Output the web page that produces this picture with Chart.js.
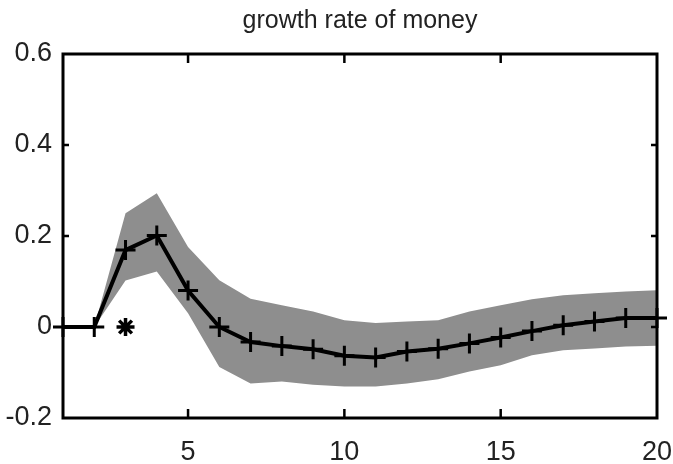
<!DOCTYPE html>
<html>
<head>
<meta charset="utf-8">
<script src="https://cdn.jsdelivr.net/npm/chart.js@4.4.1/dist/chart.umd.min.js"></script>
<style>
  html, body { margin: 0; padding: 0; background: #fff; }
  #wrap { width: 673px; height: 464px; }
</style>
</head>
<body>
<div id="wrap"><canvas id="c" width="673" height="464"></canvas></div>
<script>
const chartTitle = "growth rate of money";
const periods = [1, 2, 3, 4, 5, 6, 7, 8, 9, 10, 11, 12, 13, 14, 15, 16, 17, 18, 19, 20];
const response = [0, 0, 0.169, 0.201, 0.08, 0.0, -0.033, -0.042, -0.049, -0.063, -0.067, -0.054, -0.048, -0.036, -0.023, -0.009, 0.004, 0.012, 0.02, 0.02];
const bandUpper = [null, 0, 0.25, 0.294, 0.176, 0.103, 0.062, 0.048, 0.034, 0.015, 0.009, 0.012, 0.015, 0.034, 0.048, 0.061, 0.07, 0.074, 0.078, 0.081];
const bandLower = [null, 0, 0.102, 0.122, 0.03, -0.088, -0.124, -0.12, -0.127, -0.131, -0.131, -0.124, -0.115, -0.098, -0.084, -0.062, -0.051, -0.047, -0.043, -0.041];
const starX = [3];
const starY = [0];
const xTicks = [5, 10, 15, 20];
const xTickLabels = ["5", "10", "15", "20"];
const yTicks = [-0.2, 0, 0.2, 0.4, 0.6];
const yTickLabels = ["-0.2", "0", "0.2", "0.4", "0.6"];

const FONT = "'Liberation Sans', Arial, sans-serif";
const toPts = (xs, ys) => xs.map((x, i) => ({ x: x, y: ys[i] })).filter(p => p.y !== null);

const boxPlugin = {
  id: 'box',
  afterDatasetsDraw(chart) {
    const { ctx, chartArea: a, scales } = chart;
    const xs = scales.x, ys = scales.y;
    ctx.save();
    ctx.strokeStyle = '#000';
    ctx.lineWidth = 3;
    ctx.strokeRect(a.left, a.top, a.right - a.left, a.bottom - a.top);
    ctx.lineWidth = 2.5;
    const len = 9;
    ctx.beginPath();
    xTicks.forEach(v => {
      const px = xs.getPixelForValue(v);
      if (px >= a.right - 1) return;
      ctx.moveTo(px, a.bottom); ctx.lineTo(px, a.bottom - len);
      ctx.moveTo(px, a.top); ctx.lineTo(px, a.top + len);
    });
    yTicks.forEach(v => {
      const py = ys.getPixelForValue(v);
      if (py <= a.top + 1 || py >= a.bottom - 1) return;
      ctx.moveTo(a.left, py); ctx.lineTo(a.left + len - 3, py);
      ctx.moveTo(a.right, py); ctx.lineTo(a.right - len + 3, py);
    });
    ctx.stroke();
    ctx.restore();
  }
};

new Chart(document.getElementById('c'), {
  type: 'scatter',
  data: {
    datasets: [
      {
        data: toPts(periods, bandUpper),
        order: 3,
        showLine: true,
        borderWidth: 0,
        borderColor: 'rgba(0,0,0,0)',
        pointRadius: 0,
        backgroundColor: '#8e8e8e',
        fill: '+1',
        tension: 0
      },
      {
        data: toPts(periods, bandLower),
        order: 2,
        showLine: true,
        borderWidth: 0,
        borderColor: 'rgba(0,0,0,0)',
        pointRadius: 0,
        fill: false,
        tension: 0
      },
      {
        data: toPts(periods, response),
        order: 1,
        showLine: true,
        borderColor: '#000',
        borderWidth: 4,
        pointStyle: 'cross',
        pointRadius: 10,
        pointBorderWidth: 3,
        pointBorderColor: '#000',
        pointBackgroundColor: '#000',
        fill: false,
        tension: 0,
        clip: false
      },
      {
        data: toPts(starX, starY),
        order: 0,
        showLine: false,
        pointStyle: 'star',
        pointRadius: 9,
        pointBorderWidth: 3.5,
        pointBorderColor: '#000',
        clip: false
      }
    ]
  },
  options: {
    responsive: false,
    animation: false,
    events: [],
    layout: { padding: { left: 0, right: 0, top: 0, bottom: 0 } },
    plugins: {
      legend: { display: false },
      tooltip: { enabled: false },
      title: {
        display: true,
        fullSize: false,
        text: chartTitle,
        color: '#222',
        font: { family: FONT, size: 25, weight: 'normal', lineHeight: 1.2 },
        padding: { top: 6, bottom: 18 }
      }
    },
    scales: {
      x: {
        type: 'linear',
        min: 1,
        max: 20,
        grid: { display: false, drawTicks: false },
        border: { display: false },
        afterBuildTicks: (s) => { s.ticks = xTicks.map(v => ({ value: v })); },
        afterFit: (s) => { s.height = 46; s.paddingLeft = 0; s.paddingRight = 16; },
        ticks: {
          color: '#222',
          padding: 18,
          maxRotation: 0,
          autoSkip: false,
          font: { family: FONT, size: 27 },
          callback: (v) => xTickLabels[xTicks.indexOf(v)]
        }
      },
      y: {
        type: 'linear',
        min: -0.2,
        max: 0.6,
        grid: { display: false, drawTicks: false },
        border: { display: false },
        afterBuildTicks: (s) => { s.ticks = yTicks.map(v => ({ value: v })); },
        afterFit: (s) => { s.width = 63; },
        ticks: {
          color: '#222',
          padding: 11,
          autoSkip: false,
          font: { family: FONT, size: 27 },
          callback: (v) => {
            const i = yTicks.findIndex(t => Math.abs(t - v) < 1e-9);
            return i >= 0 ? yTickLabels[i] : '';
          }
        }
      }
    }
  },
  plugins: [boxPlugin]
});
</script>
</body>
</html>
